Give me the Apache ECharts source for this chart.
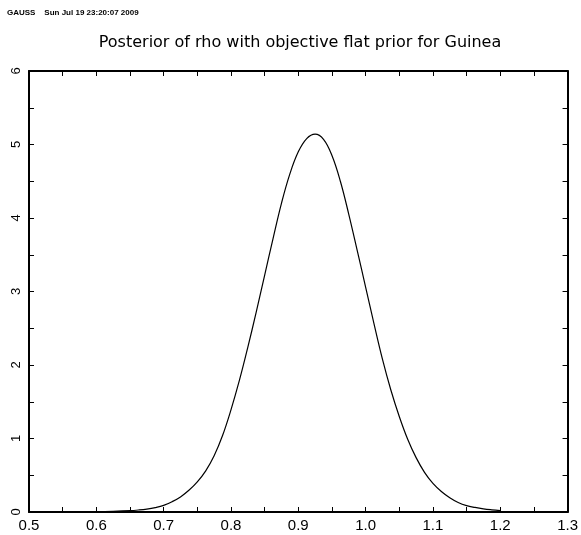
<!DOCTYPE html>
<html>
<head>
<meta charset="utf-8">
<script src="https://cdn.jsdelivr.net/npm/echarts@6/dist/echarts.min.js"></script>
<style>html,body{margin:0;padding:0;background:#fff;}#c{width:581px;height:535px;}</style>
</head>
<body>
<div id="c"></div>
<script>
const headerText = "GAUSS    Sun Jul 19 23:20:07 2009";
const titleText = "Posterior of rho with objective flat prior for Guinea";
const rho = [0.55, 0.60, 0.625, 0.65, 0.6625, 0.675, 0.6875, 0.70, 0.7125, 0.725, 0.7375, 0.75, 0.7625, 0.775, 0.7875, 0.80, 0.8125, 0.825, 0.8375, 0.85, 0.8625, 0.875, 0.8875, 0.90, 0.9125, 0.925, 0.9375, 0.95, 0.9625, 0.975, 0.9875, 1.00, 1.0125, 1.025, 1.0375, 1.05, 1.0625, 1.075, 1.0875, 1.10, 1.1125, 1.125, 1.1375, 1.15, 1.1625, 1.175, 1.1875, 1.20];
const density = [0.0, 0.004, 0.009, 0.018, 0.027, 0.04, 0.06, 0.09, 0.14, 0.205, 0.295, 0.41, 0.56, 0.765, 1.04, 1.39, 1.79, 2.24, 2.72, 3.22, 3.72, 4.20, 4.60, 4.90, 5.08, 5.14, 5.07, 4.85, 4.50, 4.05, 3.56, 3.06, 2.56, 2.08, 1.66, 1.30, 0.99, 0.74, 0.54, 0.39, 0.28, 0.195, 0.13, 0.087, 0.062, 0.043, 0.03, 0.02];
const xTicks = [0.5, 0.6, 0.7, 0.8, 0.9, 1.0, 1.1, 1.2, 1.3];
const yTicks = [0, 1, 2, 3, 4, 5, 6];

const chart = echarts.init(document.getElementById('c'), null, {renderer: 'canvas'});
const font = "'Liberation Sans', 'DejaVu Sans', sans-serif";
const axisCommon = {
  axisLine: {show: true, onZero: false, lineStyle: {color: '#000', width: 2}},
  axisTick: {show: true, inside: true, length: 5, lineStyle: {color: '#000', width: 1}},
  minorTick: {show: true, splitNumber: 2, length: 5, lineStyle: {color: '#000', width: 1}},
  splitLine: {show: false}
};
chart.setOption({
  animation: false,
  backgroundColor: '#fff',
  grid: {left: 29, right: 11, top: 71, bottom: 23, containLabel: false},
  graphic: [
    {type: 'text', left: 7, top: 9, style: {text: headerText, font: "bold 8px " + font, fill: '#000'}},
    {type: 'text', x: 300, y: 43, style: {text: titleText, font: "16px 'DejaVu Sans', sans-serif", fill: '#000', textAlign: 'center', textVerticalAlign: 'middle'}}
  ],
  xAxis: [
    Object.assign({}, axisCommon, {
      type: 'value', min: xTicks[0], max: xTicks[xTicks.length - 1], interval: 0.1, position: 'bottom',
      axisLabel: {show: true, margin: 6, color: '#000', fontSize: 15, fontFamily: font,
        formatter: v => xTicks.some(t => Math.abs(t - v) < 1e-6) ? v.toFixed(1) : ''}
    }),
    Object.assign({}, axisCommon, {
      type: 'value', min: xTicks[0], max: xTicks[xTicks.length - 1], interval: 0.1, position: 'top',
      axisLabel: {show: false}
    })
  ],
  yAxis: [
    Object.assign({}, axisCommon, {
      type: 'value', min: yTicks[0], max: yTicks[yTicks.length - 1], interval: 1, position: 'left',
      axisLabel: {show: true, rotate: 90, margin: 6, color: '#000', fontSize: 13, fontFamily: font,
        formatter: v => String(v)}
    }),
    Object.assign({}, axisCommon, {
      type: 'value', min: yTicks[0], max: yTicks[yTicks.length - 1], interval: 1, position: 'right',
      axisLabel: {show: false}
    })
  ],
  series: [{
    type: 'line',
    xAxisIndex: 0, yAxisIndex: 0,
    data: rho.map((x, i) => [x, density[i]]),
    smooth: 0.4,
    showSymbol: false,
    lineStyle: {color: '#000', width: 1.2},
    clip: true
  }]
});
</script>
</body>
</html>
